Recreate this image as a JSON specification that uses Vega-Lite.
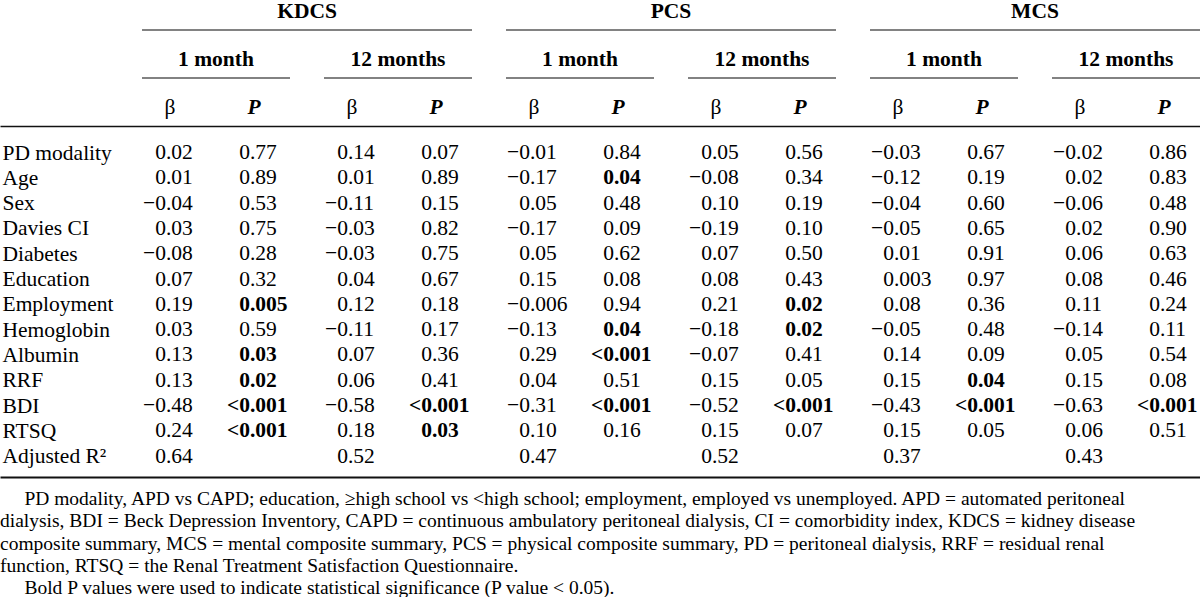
{
  "$schema": "https://vega.github.io/schema/vega-lite/v6.json",
  "padding": 0,
  "background": "white",
  "spacing": 0,
  "config": {"view": {"stroke": null}, "concat": {"spacing": 0}},
  "title": {
    "text": [
      "\u200b\u00a0\u00a0\u00a0\u00a0\u00a0PD modality, APD vs CAPD; education, \u2265high school vs <high school; employment, employed vs unemployed. APD = automated peritoneal",
      "dialysis, BDI = Beck Depression Inventory, CAPD = continuous ambulatory peritoneal dialysis, CI = comorbidity index, KDCS = kidney disease",
      "composite summary, MCS = mental composite summary, PCS = physical composite summary, PD = peritoneal dialysis, RRF = residual renal",
      "function, RTSQ = the Renal Treatment Satisfaction Questionnaire.",
      "\u200b\u00a0\u00a0\u00a0\u00a0\u00a0Bold P values were used to indicate statistical significance (P value < 0.05)."
    ],
    "orient": "bottom",
    "anchor": "start",
    "font": "Liberation Serif",
    "fontSize": 19.5,
    "fontWeight": "normal",
    "lineHeight": 22.3,
    "offset": 13,
    "color": "#000"
  },
  "datasets": {
    "cells": [
      {"var": "PD modality", "g": "KDCS 1 month", "β": "0.02", "P": "0.77"},
      {"var": "PD modality", "g": "KDCS 12 months", "β": "0.14", "P": "0.07"},
      {"var": "PD modality", "g": "PCS 1 month", "β": "−0.01", "P": "0.84"},
      {"var": "PD modality", "g": "PCS 12 months", "β": "0.05", "P": "0.56"},
      {"var": "PD modality", "g": "MCS 1 month", "β": "−0.03", "P": "0.67"},
      {"var": "PD modality", "g": "MCS 12 months", "β": "−0.02", "P": "0.86"},
      {"var": "Age", "g": "KDCS 1 month", "β": "0.01", "P": "0.89"},
      {"var": "Age", "g": "KDCS 12 months", "β": "0.01", "P": "0.89"},
      {"var": "Age", "g": "PCS 1 month", "β": "−0.17", "P": "0.04", "sig": true},
      {"var": "Age", "g": "PCS 12 months", "β": "−0.08", "P": "0.34"},
      {"var": "Age", "g": "MCS 1 month", "β": "−0.12", "P": "0.19"},
      {"var": "Age", "g": "MCS 12 months", "β": "0.02", "P": "0.83"},
      {"var": "Sex", "g": "KDCS 1 month", "β": "−0.04", "P": "0.53"},
      {"var": "Sex", "g": "KDCS 12 months", "β": "−0.11", "P": "0.15"},
      {"var": "Sex", "g": "PCS 1 month", "β": "0.05", "P": "0.48"},
      {"var": "Sex", "g": "PCS 12 months", "β": "0.10", "P": "0.19"},
      {"var": "Sex", "g": "MCS 1 month", "β": "−0.04", "P": "0.60"},
      {"var": "Sex", "g": "MCS 12 months", "β": "−0.06", "P": "0.48"},
      {"var": "Davies CI", "g": "KDCS 1 month", "β": "0.03", "P": "0.75"},
      {"var": "Davies CI", "g": "KDCS 12 months", "β": "−0.03", "P": "0.82"},
      {"var": "Davies CI", "g": "PCS 1 month", "β": "−0.17", "P": "0.09"},
      {"var": "Davies CI", "g": "PCS 12 months", "β": "−0.19", "P": "0.10"},
      {"var": "Davies CI", "g": "MCS 1 month", "β": "−0.05", "P": "0.65"},
      {"var": "Davies CI", "g": "MCS 12 months", "β": "0.02", "P": "0.90"},
      {"var": "Diabetes", "g": "KDCS 1 month", "β": "−0.08", "P": "0.28"},
      {"var": "Diabetes", "g": "KDCS 12 months", "β": "−0.03", "P": "0.75"},
      {"var": "Diabetes", "g": "PCS 1 month", "β": "0.05", "P": "0.62"},
      {"var": "Diabetes", "g": "PCS 12 months", "β": "0.07", "P": "0.50"},
      {"var": "Diabetes", "g": "MCS 1 month", "β": "0.01", "P": "0.91"},
      {"var": "Diabetes", "g": "MCS 12 months", "β": "0.06", "P": "0.63"},
      {"var": "Education", "g": "KDCS 1 month", "β": "0.07", "P": "0.32"},
      {"var": "Education", "g": "KDCS 12 months", "β": "0.04", "P": "0.67"},
      {"var": "Education", "g": "PCS 1 month", "β": "0.15", "P": "0.08"},
      {"var": "Education", "g": "PCS 12 months", "β": "0.08", "P": "0.43"},
      {"var": "Education", "g": "MCS 1 month", "β": "0.003", "P": "0.97"},
      {"var": "Education", "g": "MCS 12 months", "β": "0.08", "P": "0.46"},
      {"var": "Employment", "g": "KDCS 1 month", "β": "0.19", "P": "0.005", "sig": true},
      {"var": "Employment", "g": "KDCS 12 months", "β": "0.12", "P": "0.18"},
      {"var": "Employment", "g": "PCS 1 month", "β": "−0.006", "P": "0.94"},
      {"var": "Employment", "g": "PCS 12 months", "β": "0.21", "P": "0.02", "sig": true},
      {"var": "Employment", "g": "MCS 1 month", "β": "0.08", "P": "0.36"},
      {"var": "Employment", "g": "MCS 12 months", "β": "0.11", "P": "0.24"},
      {"var": "Hemoglobin", "g": "KDCS 1 month", "β": "0.03", "P": "0.59"},
      {"var": "Hemoglobin", "g": "KDCS 12 months", "β": "−0.11", "P": "0.17"},
      {"var": "Hemoglobin", "g": "PCS 1 month", "β": "−0.13", "P": "0.04", "sig": true},
      {"var": "Hemoglobin", "g": "PCS 12 months", "β": "−0.18", "P": "0.02", "sig": true},
      {"var": "Hemoglobin", "g": "MCS 1 month", "β": "−0.05", "P": "0.48"},
      {"var": "Hemoglobin", "g": "MCS 12 months", "β": "−0.14", "P": "0.11"},
      {"var": "Albumin", "g": "KDCS 1 month", "β": "0.13", "P": "0.03", "sig": true},
      {"var": "Albumin", "g": "KDCS 12 months", "β": "0.07", "P": "0.36"},
      {"var": "Albumin", "g": "PCS 1 month", "β": "0.29", "P": "<0.001", "sig": true},
      {"var": "Albumin", "g": "PCS 12 months", "β": "−0.07", "P": "0.41"},
      {"var": "Albumin", "g": "MCS 1 month", "β": "0.14", "P": "0.09"},
      {"var": "Albumin", "g": "MCS 12 months", "β": "0.05", "P": "0.54"},
      {"var": "RRF", "g": "KDCS 1 month", "β": "0.13", "P": "0.02", "sig": true},
      {"var": "RRF", "g": "KDCS 12 months", "β": "0.06", "P": "0.41"},
      {"var": "RRF", "g": "PCS 1 month", "β": "0.04", "P": "0.51"},
      {"var": "RRF", "g": "PCS 12 months", "β": "0.15", "P": "0.05"},
      {"var": "RRF", "g": "MCS 1 month", "β": "0.15", "P": "0.04", "sig": true},
      {"var": "RRF", "g": "MCS 12 months", "β": "0.15", "P": "0.08"},
      {"var": "BDI", "g": "KDCS 1 month", "β": "−0.48", "P": "<0.001", "sig": true},
      {"var": "BDI", "g": "KDCS 12 months", "β": "−0.58", "P": "<0.001", "sig": true},
      {"var": "BDI", "g": "PCS 1 month", "β": "−0.31", "P": "<0.001", "sig": true},
      {"var": "BDI", "g": "PCS 12 months", "β": "−0.52", "P": "<0.001", "sig": true},
      {"var": "BDI", "g": "MCS 1 month", "β": "−0.43", "P": "<0.001", "sig": true},
      {"var": "BDI", "g": "MCS 12 months", "β": "−0.63", "P": "<0.001", "sig": true},
      {"var": "RTSQ", "g": "KDCS 1 month", "β": "0.24", "P": "<0.001", "sig": true},
      {"var": "RTSQ", "g": "KDCS 12 months", "β": "0.18", "P": "0.03", "sig": true},
      {"var": "RTSQ", "g": "PCS 1 month", "β": "0.10", "P": "0.16"},
      {"var": "RTSQ", "g": "PCS 12 months", "β": "0.15", "P": "0.07"},
      {"var": "RTSQ", "g": "MCS 1 month", "β": "0.15", "P": "0.05"},
      {"var": "RTSQ", "g": "MCS 12 months", "β": "0.06", "P": "0.51"},
      {"var": "Adjusted R²", "g": "KDCS 1 month", "β": "0.64"},
      {"var": "Adjusted R²", "g": "KDCS 12 months", "β": "0.52"},
      {"var": "Adjusted R²", "g": "PCS 1 month", "β": "0.47"},
      {"var": "Adjusted R²", "g": "PCS 12 months", "β": "0.52"},
      {"var": "Adjusted R²", "g": "MCS 1 month", "β": "0.37"},
      {"var": "Adjusted R²", "g": "MCS 12 months", "β": "0.43"}
    ],
    "hdr": [
      {"lvl": "o", "o": "KDCS"},
      {"lvl": "o", "o": "PCS"},
      {"lvl": "o", "o": "MCS"},
      {"lvl": "t", "g": "KDCS 1 month", "label": "1 month"},
      {"lvl": "t", "g": "KDCS 12 months", "label": "12 months"},
      {"lvl": "t", "g": "PCS 1 month", "label": "1 month"},
      {"lvl": "t", "g": "PCS 12 months", "label": "12 months"},
      {"lvl": "t", "g": "MCS 1 month", "label": "1 month"},
      {"lvl": "t", "g": "MCS 12 months", "label": "12 months"},
      {"lvl": "s", "g": "KDCS 1 month", "s": "β"},
      {"lvl": "s", "g": "KDCS 1 month", "s": "P"},
      {"lvl": "s", "g": "KDCS 12 months", "s": "β"},
      {"lvl": "s", "g": "KDCS 12 months", "s": "P"},
      {"lvl": "s", "g": "PCS 1 month", "s": "β"},
      {"lvl": "s", "g": "PCS 1 month", "s": "P"},
      {"lvl": "s", "g": "PCS 12 months", "s": "β"},
      {"lvl": "s", "g": "PCS 12 months", "s": "P"},
      {"lvl": "s", "g": "MCS 1 month", "s": "β"},
      {"lvl": "s", "g": "MCS 1 month", "s": "P"},
      {"lvl": "s", "g": "MCS 12 months", "s": "β"},
      {"lvl": "s", "g": "MCS 12 months", "s": "P"}
    ]
  },
  "vconcat": [
    {
      "width": 1200,
      "height": 123,
      "data": {"name": "hdr"},
      "resolve": {"scale": {"x": "independent"}},
      "layer": [
        {
          "transform": [{"filter": "datum.lvl === 'o'"}],
          "mark": {"type": "text", "font": "Liberation Serif", "fontSize": 21.5, "fontWeight": "bold", "baseline": "middle", "align": "center", "color": "#000"},
          "encoding": {
            "x": {"field": "o", "type": "nominal", "axis": null, "scale": {"type": "band", "domain": ["KDCS", "PCS", "MCS"], "paddingInner": 0.09341, "paddingOuter": 0.1951, "align": 1, "round": false}},
            "y": {"field": "lvl", "type": "nominal", "axis": null, "bandPosition": 0.333, "scale": {"type": "band", "domain": ["o", "t", "s"], "paddingInner": 0.4375, "paddingOuter": 0, "round": false}},
            "text": {"field": "o"}
          }
        },
        {
          "transform": [{"filter": "datum.lvl === 'o'"}],
          "mark": {"type": "tick", "orient": "horizontal", "size": 330, "thickness": 1.3, "color": "#111"},
          "encoding": {
            "x": {"field": "o", "type": "nominal", "axis": null, "scale": {"type": "band", "domain": ["KDCS", "PCS", "MCS"], "paddingInner": 0.09341, "paddingOuter": 0.1951, "align": 1, "round": false}},
            "y": {"field": "lvl", "type": "nominal", "axis": null, "bandPosition": 1, "scale": {"type": "band", "domain": ["o", "t", "s"], "paddingInner": 0.4375, "paddingOuter": 0, "round": false}}
          }
        },
        {
          "transform": [{"filter": "datum.lvl === 't'"}],
          "mark": {"type": "text", "font": "Liberation Serif", "fontSize": 21.5, "fontWeight": "bold", "baseline": "middle", "align": "center", "color": "#000"},
          "encoding": {
            "x": {"field": "g", "type": "nominal", "axis": {"orient": "bottom", "labels": false, "ticks": false, "domain": true, "domainColor": "#111", "domainWidth": 1.3, "title": null, "grid": false}, "scale": {"type": "band", "domain": ["KDCS 1 month", "KDCS 12 months", "PCS 1 month", "PCS 12 months", "MCS 1 month", "MCS 12 months"], "paddingInner": 0.18681, "paddingOuter": 0.3901, "align": 1, "round": false}},
            "y": {"field": "lvl", "type": "nominal", "axis": null, "bandPosition": 0.333, "scale": {"type": "band", "domain": ["o", "t", "s"], "paddingInner": 0.4375, "paddingOuter": 0, "round": false}},
            "text": {"field": "label"}
          }
        },
        {
          "transform": [{"filter": "datum.lvl === 't'"}],
          "mark": {"type": "tick", "orient": "horizontal", "size": 148, "thickness": 1.3, "color": "#111"},
          "encoding": {
            "x": {"field": "g", "type": "nominal", "axis": null, "scale": {"type": "band", "domain": ["KDCS 1 month", "KDCS 12 months", "PCS 1 month", "PCS 12 months", "MCS 1 month", "MCS 12 months"], "paddingInner": 0.18681, "paddingOuter": 0.3901, "align": 1, "round": false}},
            "y": {"field": "lvl", "type": "nominal", "axis": null, "bandPosition": 1, "scale": {"type": "band", "domain": ["o", "t", "s"], "paddingInner": 0.4375, "paddingOuter": 0, "round": false}}
          }
        },
        {
          "transform": [{"filter": "datum.lvl === 's' && datum.s === 'β'"}],
          "mark": {"type": "text", "font": "Liberation Serif", "fontSize": 21.5, "fontWeight": "normal", "baseline": "middle", "align": "center", "dx": 4, "color": "#000"},
          "encoding": {
            "x": {"field": "g", "type": "nominal", "axis": null, "scale": {"type": "band", "domain": ["KDCS 1 month", "KDCS 12 months", "PCS 1 month", "PCS 12 months", "MCS 1 month", "MCS 12 months"], "paddingInner": 0.18681, "paddingOuter": 0.3901, "align": 1, "round": false}},
            "xOffset": {"field": "s", "type": "nominal", "scale": {"type": "band", "domain": ["β", "P"], "paddingInner": 0.8, "paddingOuter": 0.281, "align": 0.3305, "round": false}},
            "y": {"field": "lvl", "type": "nominal", "axis": null, "bandPosition": 0.333, "scale": {"type": "band", "domain": ["o", "t", "s"], "paddingInner": 0.4375, "paddingOuter": 0, "round": false}},
            "text": {"field": "s"}
          }
        },
        {
          "transform": [{"filter": "datum.lvl === 's' && datum.s === 'P'"}],
          "mark": {"type": "text", "font": "Liberation Serif", "fontSize": 21.5, "fontWeight": "bold", "fontStyle": "italic", "baseline": "middle", "align": "center", "dx": 4, "color": "#000"},
          "encoding": {
            "x": {"field": "g", "type": "nominal", "axis": null, "scale": {"type": "band", "domain": ["KDCS 1 month", "KDCS 12 months", "PCS 1 month", "PCS 12 months", "MCS 1 month", "MCS 12 months"], "paddingInner": 0.18681, "paddingOuter": 0.3901, "align": 1, "round": false}},
            "xOffset": {"field": "s", "type": "nominal", "scale": {"type": "band", "domain": ["β", "P"], "paddingInner": 0.8, "paddingOuter": 0.281, "align": 0.3305, "round": false}},
            "y": {"field": "lvl", "type": "nominal", "axis": null, "bandPosition": 0.333, "scale": {"type": "band", "domain": ["o", "t", "s"], "paddingInner": 0.4375, "paddingOuter": 0, "round": false}},
            "text": {"field": "s"}
          }
        }
      ]
    },
    {
      "width": 1200,
      "height": 351,
      "data": {"name": "cells"},
      "transform": [
        {"fold": ["β", "P"], "as": ["s", "v"]},
        {"filter": "isValid(datum.v)"},
        {"calculate": "indexof(datum.v, '.')", "as": "i"},
        {"calculate": "substring(datum.v, 0, datum.i)", "as": "L"},
        {"calculate": "substring(datum.v, datum.i)", "as": "R"}
      ],
      "encoding": {
        "x": {"field": "g", "type": "nominal", "axis": {"orient": "bottom", "labels": false, "ticks": false, "domain": true, "domainColor": "#111", "domainWidth": 2, "title": null, "grid": false}, "scale": {"type": "band", "domain": ["KDCS 1 month", "KDCS 12 months", "PCS 1 month", "PCS 12 months", "MCS 1 month", "MCS 12 months"], "paddingInner": 0.18681, "paddingOuter": 0.3901, "align": 1, "round": false}},
        "xOffset": {"field": "s", "type": "nominal", "scale": {"type": "band", "domain": ["β", "P"], "paddingInner": 0.8, "paddingOuter": 0.281, "align": 0.3305, "round": false}},
        "y": {"field": "var", "type": "nominal", "axis": {"orient": "left", "labelAlign": "left", "labelPadding": -2, "ticks": false, "domain": false, "title": null, "grid": false, "labelFont": "Liberation Serif", "labelFontSize": 21.5, "labelColor": "#000", "labelBaseline": "middle", "labelLimit": 400}, "scale": {"type": "point", "domain": ["PD modality", "Age", "Sex", "Davies CI", "Diabetes", "Education", "Employment", "Hemoglobin", "Albumin", "RRF", "BDI", "RTSQ", "Adjusted R²"], "padding": 0.937, "align": 0.57, "round": false}}
      },
      "layer": [
        {
          "transform": [{"filter": "!(datum.s === 'P' && datum.sig === true)"}],
          "mark": {"type": "text", "font": "Liberation Serif", "fontSize": 21.5, "fontWeight": "normal", "baseline": "middle", "align": "right", "color": "#000"},
          "encoding": {"text": {"field": "L"}}
        },
        {
          "transform": [{"filter": "!(datum.s === 'P' && datum.sig === true)"}],
          "mark": {"type": "text", "font": "Liberation Serif", "fontSize": 21.5, "fontWeight": "normal", "baseline": "middle", "align": "left", "color": "#000"},
          "encoding": {"text": {"field": "R"}}
        },
        {
          "transform": [{"filter": "datum.s === 'P' && datum.sig === true"}],
          "mark": {"type": "text", "font": "Liberation Serif", "fontSize": 21.5, "fontWeight": "bold", "baseline": "middle", "align": "right", "color": "#000"},
          "encoding": {"text": {"field": "L"}}
        },
        {
          "transform": [{"filter": "datum.s === 'P' && datum.sig === true"}],
          "mark": {"type": "text", "font": "Liberation Serif", "fontSize": 21.5, "fontWeight": "bold", "baseline": "middle", "align": "left", "color": "#000"},
          "encoding": {"text": {"field": "R"}}
        }
      ]
    }
  ]
}
